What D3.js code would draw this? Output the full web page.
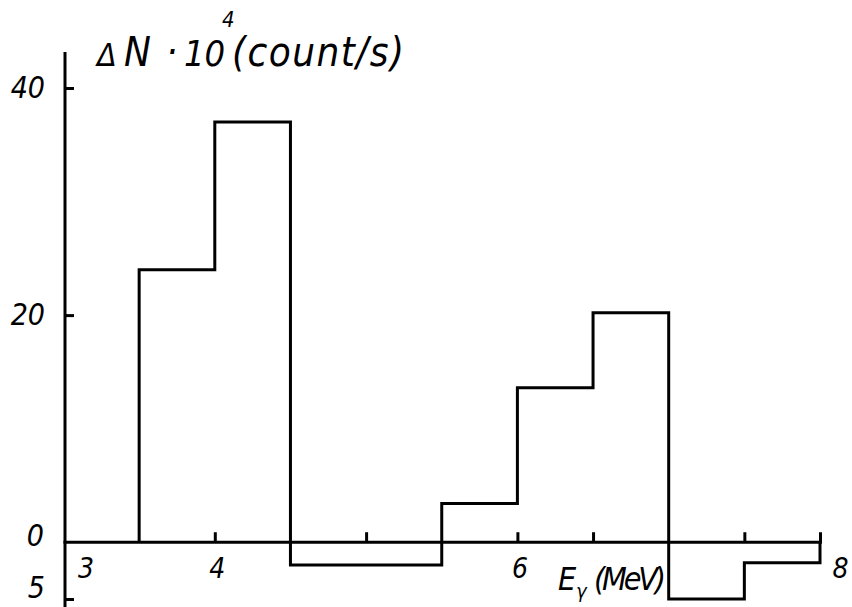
<!DOCTYPE html>
<html>
<head>
<meta charset="utf-8">
<script src="https://cdn.jsdelivr.net/npm/d3@7"></script>
<style>
  body { margin: 0; background: #fff; }
  svg { display: block; }
  .lbl { font-family: "DejaVu Sans Condensed", "DejaVu Sans", sans-serif; font-style: italic; fill: #000; }
  .axis path, .axis line { stroke: #000; stroke-width: 3; }
  .step { fill: none; stroke: #000; stroke-width: 3; }
</style>
</head>
<body>
<svg width="852" height="607"></svg>
<script>
// histogram bins (MeV) and counts (ΔN·10^4, count/s)
const binEdges = [3.5, 4, 4.5, 5, 5.5, 6, 6.5, 7, 7.5, 8];
const counts = [24, 37, -2, -2, 3.4, 13.6, 20.2, -5, -1.8];
const xTicks = [3, 4, 5, 6, 6.5, 7.5, 8];
const xTickLabels = { 3: "3", 4: "4", 6: "6", 8: "8" };
const yTicks = [-5, 20, 40];
const yTickLabels = ["5", "0", "20", "40"];

const svg = d3.select("svg");

const x = d3.scaleLinear().domain([3, 8]).range([63.5, 820]);
const y = d3.scaleLinear().domain([-5, 40]).range([599, 88]);

// y axis: ticks point right, labels left
const yAxis = svg.append("g")
    .classed("axis", true)
    .attr("transform", `translate(${x(3) + 1.5},0)`)
    .call(d3.axisLeft(y).tickValues(yTicks).tickSize(-9).tickPadding(20).tickFormat(d => Math.abs(d)));
yAxis.select(".domain").attr("d", `M0,52V607`);
yAxis.selectAll("text").classed("lbl", true).attr("font-size", 30).attr("font-family", null)
    .attr("dy", d => d < 0 ? "-0.05em" : "0.32em");

// zero label (no tick, x axis sits there)
svg.append("text").classed("lbl", true)
    .attr("x", 44).attr("y", y(0) + 4)
    .attr("text-anchor", "end").attr("font-size", 30)
    .text(yTickLabels[1]);

// x axis: small ticks pointing up
const xAxis = svg.append("g")
    .classed("axis", true)
    .attr("transform", `translate(0,${y(0)})`)
    .call(d3.axisBottom(x).tickValues(xTicks).tickSize(-10).tickPadding(16)
        .tickFormat(d => xTickLabels[d] || ""));
xAxis.select(".domain").attr("d", `M${x(3)},0H${x(8) + 2}`);
xAxis.selectAll(".tick").filter(d => d === 3).select("line").remove();
xAxis.selectAll("text").classed("lbl", true).attr("font-size", 28).attr("font-family", null)
    .attr("dx", d => d === 3 ? 22 : d === 8 ? 20 : 2);

// stepped histogram outline
const pts = [[binEdges[0], 0]];
counts.forEach((c, i) => pts.push([binEdges[i], c]));
pts.push([binEdges[binEdges.length - 1], counts[counts.length - 1]]);
pts.push([binEdges[binEdges.length - 1], 0]);

const line = d3.line()
    .x(d => x(d[0]))
    .y(d => y(d[1]))
    .curve(d3.curveStepAfter);

svg.append("path")
    .classed("step", true)
    .attr("d", line(pts));

// y title
const title = svg.append("text").classed("lbl", true)
    .attr("y", 66).attr("font-size", 40);
title.append("tspan").attr("x", 97).attr("font-size", 32).text("Δ");
title.append("tspan").attr("x", 124).text("N");
title.append("tspan").attr("x", 166).text("·");
title.append("tspan").attr("x", 184).attr("font-size", 36).text("10");
title.append("tspan").attr("x", 222).attr("y", 27).attr("font-size", 22).text("4");
title.append("tspan").attr("x", 232).attr("y", 66).attr("textLength", 172).text("(count/s)");

// x title
const xt = svg.append("text").classed("lbl", true)
    .attr("y", 590).attr("font-size", 32);
xt.append("tspan").attr("x", 558).text("E");
xt.append("tspan").attr("x", 576).attr("font-size", 20).attr("dy", 8).text("γ");
xt.append("tspan").attr("x", 594).attr("dy", -8).attr("textLength", 72).text("(MeV)");
</script>
</body>
</html>
